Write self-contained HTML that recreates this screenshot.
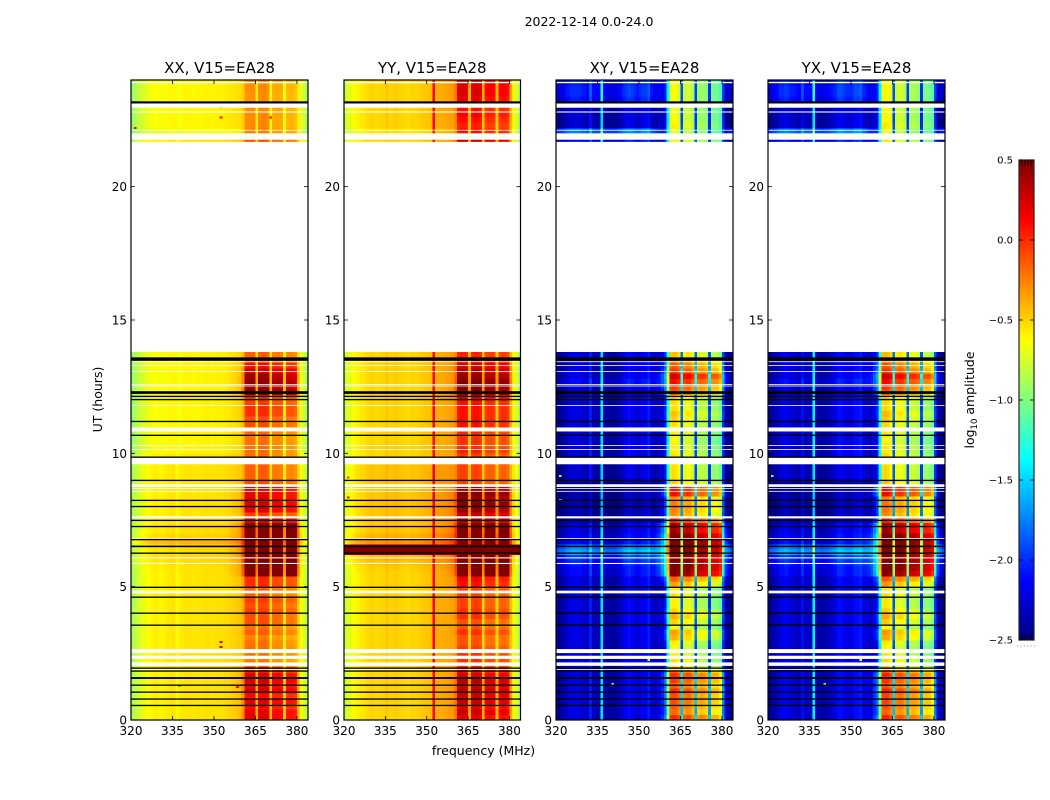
<!DOCTYPE html>
<html>
<head>
<meta charset="utf-8">
<title>2022-12-14 baseline spectrogram</title>
<style>
html,body{margin:0;padding:0;background:#fff}
svg{display:block}
text{font-family:"DejaVu Sans","Liberation Sans",sans-serif;fill:#000}
</style>
</head>
<body>
<svg id="fig" xmlns="http://www.w3.org/2000/svg" width="1050" height="800" viewBox="0 0 1050 800">
<text x="589" y="26" font-size="12.5" text-anchor="middle">2022-12-14 0.0-24.0</text>
<text x="483.5" y="755" font-size="12.5" text-anchor="middle">frequency (MHz)</text>
<text x="102" y="399.5" font-size="12.5" text-anchor="middle" transform="rotate(-90 102 399.5)">UT (hours)</text>
<text x="974" y="400" font-size="12.5" text-anchor="middle" transform="rotate(-90 974 400)">log<tspan font-size="8.5" dy="3">10</tspan><tspan dy="-3"> amplitude</tspan></text>
</svg>
<script>
// ---------- data ----------
const panelTitles = ["XX, V15=EA28", "YY, V15=EA28", "XY, V15=EA28", "YX, V15=EA28"];
const freqTicks = [320, 335, 350, 365, 380];
const utTicks = [0, 5, 10, 15, 20];
const colorTicks = [0.5, 0.0, -0.5, -1.0, -1.5, -2.0, -2.5];

// log10 amplitude per 1 MHz channel, 320..383 MHz
const xxSpectrum = [-.88,-.82,-.76,-.72,-.68,-.65,-.62,-.6,
 -.58,-.58,-.6,-.6,-.58,-.56,-.56,-.55,
 -.62,-.58,-.56,-.55,-.55,-.55,-.56,-.56,
 -.55,-.55,-.54,-.54,-.54,-.55,-.54,-.54,
 -.54,-.53,-.52,-.52,-.5,-.5,-.48,-.47,
 -.42,-.22,-.2,-.2,-.2,-.5,-.2,-.18,
 -.18,-.22,-.55,-.3,-.28,-.28,-.3,-.58,
 -.33,-.32,-.32,-.36,-.5,-.65,-.72,-.82];
const yySpectrum = [-.78,-.72,-.68,-.64,-.6,-.58,-.56,-.55,
 -.52,-.5,-.5,-.52,-.52,-.5,-.5,-.45,
 -.5,-.5,-.48,-.48,-.5,-.5,-.52,-.52,
 -.5,-.5,-.5,-.48,-.47,-.46,-.45,-.44,
 .12,-.4,-.38,-.38,-.38,-.37,-.36,-.35,
 -.3,-.08,-.05,-.05,-.08,-.45,-.08,-.05,
 -.05,-.1,-.5,-.18,-.15,-.15,-.18,-.5,
 -.18,-.15,-.15,-.2,-.45,-.6,-.72,-.82];
const xySpectrum = [-2.45,-2.4,-2.4,-2.3,-2.25,-2.2,-2.2,-2.2,
 -2.2,-2.25,-2.25,-2.35,-2.05,-2.3,-2.35,-2.35,
 -1.45,-2.35,-2.4,-2.4,-2.4,-2.4,-2.35,-2.3,
 -2.2,-2.15,-2.1,-2.15,-2.2,-2.25,-2.2,-2.15,
 -2.15,-2.05,-2.25,-2.3,-2.3,-2.3,-2.25,-2.1,
 -1.4,-.62,-.58,-.6,-.7,-1.9,-.75,-.7,
 -.72,-.85,-1.95,-.9,-.85,-.88,-.95,-2.0,
 -1.0,-.98,-1.0,-1.15,-2.0,-2.4,-2.45,-2.5];
const yxSpectrum = [-2.45,-2.4,-2.35,-2.3,-2.2,-2.2,-2.15,-2.2,
 -2.25,-2.25,-2.3,-2.35,-2.1,-2.3,-2.3,-2.3,
 -1.4,-2.35,-2.35,-2.4,-2.35,-2.35,-2.3,-2.25,
 -2.2,-2.1,-2.1,-2.15,-2.2,-2.2,-2.2,-2.1,
 -2.1,-2.05,-2.2,-2.25,-2.3,-2.3,-2.2,-2.1,
 -1.4,-.58,-.55,-.58,-.68,-1.9,-.75,-.7,
 -.72,-.82,-1.95,-.85,-.82,-.85,-.92,-2.0,
 -.98,-.95,-.98,-1.12,-2.0,-2.4,-2.45,-2.5];

// how strongly each channel follows the band-gain series
const parallelBandWeight = [0,0,0,0,0,0,0,0, 0,0,0,0,0,0,0,0, 0,0,0,0,0,0,0,0, 0,0,0,0,0,0,0,0,
 0,0,0,.02,.04,.06,.08,.12, .3,1,1,1,1,.3,1,1, 1,1,.3,1,1,1,1,.3, 1,1,1,1,.3,.05,0,0];
const crossBandWeight = [0,0,0,0,0,0,0,0, 0,0,0,0,0,0,0,0, 0,0,0,0,0,0,0,0, 0,0,0,0,0,0,0,0,
 0,0,.05,.1,.2,.3,.45,.6, .8,1,1,1,1,.8,1,1, 1,1,.8,1,1,1,1,.8, 1,1,1,1,.6,.3,.15,.05];

// gain per 0.2-hour row; null rows have no data
const noData = new Array(39).fill(null);
const xxBandGain = [.4,.4,.3,.4,.3,.45,.4,.45,.4,.15,
 0,-.05,0,0,0,-.05,.05,0,.1,.1,.15,.1,.15,.05,.05,
 .2,.2,.9,1,1,1,1.05,1.05,1.05,.95,1,1,.4,.15,.4,
 .45,.4,.4,.4,.1,.05,.05,.05,0,0,
 0,0,0,0,.05,.1,.1,.2,.2,.15,
 .2,.7,.6,.65,.6,.45,.3,.2,.05,
 ...noData,
 .1,.1,-.05,-.08,-.08,-.08,-.08,-.1,-.1,-.1,-.08,-.1];
const yyBandGain = [.25,.35,.25,.35,.35,.4,.35,.4,.3,.1,
 .05,.05,.05,0,-.05,-.05,.05,-.05,-.05,.05,.05,0,0,0,0,
 .15,.2,.7,.8,.8,.8,1,1,1,.85,.8,.85,.4,.35,.5,
 .6,.5,.6,.45,0,0,0,0,0,0,
 .1,.05,.05,.05,.1,.15,.15,.15,.15,.15,
 .25,.55,.55,.6,.5,.4,.3,.25,.1,
 ...noData,
 .35,.35,.15,.1,.15,.2,.15,.25,.25,.3,.3,.3];
const crossBandGain = [.6,.4,.45,.5,.5,.6,.45,.55,.6,.3,
 .05,.05,0,-.05,0,.2,.25,-.05,.1,.2,.1,0,0,.05,0,
 .25,.45,1.1,1.2,1.2,1.2,1.25,1.3,1.3,1.2,1.0,1.0,.6,.3,.35,
 .35,.3,.7,.7,.1,.05,.05,.05,0,.05,
 0,0,-.05,0,0,.05,.1,.15,.05,.05,
 .1,.5,.55,.7,.85,.55,.45,.35,.15,
 ...noData,
 0,0,-.1,0,-.05,-.05,-.05,-.05,-.05,-.05,-.05,-.05];

const xxOffGain = [0,0,0,0,0,0,0,0,0,0, 0,0,0,0,0,0,0,0,0,0, 0,0,0,0,0,
 0,0,0,.01,.02,.04,.04,.03,.15,.05,.02,.02,0,0,0,
 0,0,0,0,0,0,0,0,0,0, -.05,-.05,-.05,-.05,-.05,-.05,-.05,-.05,-.05,-.05, -.05,-.05,-.05,-.05,-.05,-.05,-.05,-.05,-.05,
 ...noData,
 0,0,-.1,-.05,-.05,-.05,-.05,-.05,-.05,-.05,-.05,-.05];
const yyOffGain = [0,0,0,0,0,0,0,0,0,0, 0,0,0,0,0,0,0,0,0,0, 0,0,0,0,0,
 0,0,0,.02,.05,.08,2,2,.2,.1,.05,.03,.05,.05,.05,
 .05,.05,.05,.05,.05,.05,.05,.05,0,0, 0,0,0,0,0,0,0,0,0,0, 0,0,0,0,0,0,0,0,0,
 ...noData,
 0,0,-.05,0,0,0,0,0,0,0,0,0];
const crossOffGain = [0,0,0,0,0,0,0,0,0,0, 0,0,0,0,0,0,0,0,0,0, 0,0,0,0,0,
 0,0,.1,.1,.2,.25,.6,.5,.1,.05,0,0,-.15,-.15,-.15,
 -.15,-.15,-.15,-.15,-.15,-.05,-.05,-.05,-.05,0, 0,0,0,0,0,0,0,0,0,0, 0,0,0,.1,0,0,0,0,0,
 ...noData,
 .1,.2,.45,-.05,-.05,-.05,-.05,-.05,.15,.2,.2,.15];

// flagged time ranges, in UT hours
const whiteStartUT = [2.03,2.29,2.51,1.88,4.75,5.85,6.06,6.75,7.56,8.56,8.67,8.74,9.59,10.13,10.28,10.82,11.78,12.51,12.57,13.05,13.28,13.42,21.5,21.76,22.1,22.78,22.96,23.88];
const whiteEndUT = [2.16,2.41,2.66,1.91,4.85,5.89,6.1,6.82,7.64,8.59,8.7,8.84,9.85,10.16,10.31,10.97,11.81,12.54,12.6,13.08,13.31,13.45,21.68,22.0,22.13,22.82,23.12,23.93];
const blackStartUT = [.52,.76,1.02,1.28,1.54,1.81,1.92,3.53,3.98,4.58,4.95,6.23,6.48,6.74,7.23,7.46,7.98,8.21,8.96,9.83,10.65,11.17,11.99,12.11,12.23,13.47,23.12];
const blackEndUT = [.57,.81,1.07,1.33,1.61,1.86,1.97,3.58,4.03,4.63,5.0,6.28,6.54,6.79,7.28,7.51,8.03,8.26,9.01,9.88,10.7,11.22,12.04,12.16,12.33,13.6,23.2];

// isolated bright samples
const speckPanel = [0,0,0,0,0,0,0,0,0,1,1,2,2,2,2,3,3,3];
const speckFreq = [352,352,352,352,337,358,366,370,321,321,321,321,321,353,340,321,353,340];
const speckUT = [2.7,2.88,22.55,22.95,1.25,1.2,23.0,22.55,22.15,9.05,8.3,9.1,8.2,2.2,1.3,9.1,2.2,1.3];
const speckValue = [.2,.2,.1,.1,0,.1,0,.1,.1,-.1,.1,-.9,-1,-.7,-.9,-.9,-.7,-.9];

// ---------- layout ----------
const plotTop = 80, plotBottom = 720;
const panelLeft = [131, 344, 556, 768];
const panelWidth = [177, 176.5, 177, 177];
const FREQ_MIN = 320, FREQ_MAX = 384, UT_MAX = 24, ROW_HOURS = 0.2;
const CB_LEFT = 1019, CB_RIGHT = 1034, CB_TOP = 160, CB_BOTTOM = 640;
const SVGNS = "http://www.w3.org/2000/svg";
const fig = document.getElementById("fig");

const panelSpectra = [xxSpectrum, yySpectrum, xySpectrum, yxSpectrum];
const panelWeights = [parallelBandWeight, parallelBandWeight, crossBandWeight, crossBandWeight];
const panelBandGain = [xxBandGain, yyBandGain, crossBandGain, crossBandGain];
const panelOffGain = [xxOffGain, yyOffGain, crossOffGain, crossOffGain];

function xAxis(p, f) { return panelLeft[p] + (f - FREQ_MIN) / (FREQ_MAX - FREQ_MIN) * panelWidth[p]; }
function yAxis(t) { return plotBottom - t / UT_MAX * (plotBottom - plotTop); }
function cbAxis(v) { return CB_BOTTOM - (v + 2.5) / 3 * (CB_BOTTOM - CB_TOP); }

function jetChannel(x) { return Math.max(0, Math.min(1, 1.5 - Math.abs(x))); }
function jet(v) {
  const t = Math.max(0, Math.min(1, (v + 2.5) / 3));
  const r = jetChannel(4 * t - 3), g = jetChannel(4 * t - 2), b = jetChannel(4 * t - 1);
  return "rgb(" + Math.round(r * 255) + "," + Math.round(g * 255) + "," + Math.round(b * 255) + ")";
}
function make(tag, parent, props) {
  const e = document.createElementNS(SVGNS, tag);
  for (const k in props) e.setAttribute(k, props[k]);
  parent.appendChild(e);
  return e;
}

// ---------- panels ----------
panelTitles.forEach(function (title, p) {
  const x0 = panelLeft[p], x1 = x0 + panelWidth[p];
  const g = make("g", fig, {});
  
  

  const cells = make("g", g, { "shape-rendering": "crispEdges" });
  
  

  panelBandGain[p].forEach(function (gain, row) {
    if (gain === null) return;
    const off = panelOffGain[p][row];
    const yA = yAxis((row + 1) * ROW_HOURS), yB = yAxis(row * ROW_HOURS);
    panelSpectra[p].forEach(function (base, ch) {
      const w = panelWeights[p][ch];
      const v = base + gain * w + off * (1 - w);
      const xa = xAxis(p, FREQ_MIN + ch), xb = xAxis(p, FREQ_MIN + ch + 1);
      const c = make("rect", cells, { x: xa.toFixed(2), y: yA.toFixed(2), width: (xb - xa + 0.3).toFixed(2), height: (yB - yA + 0.3).toFixed(2), fill: jet(v) });
      
      
    });
  });

  speckPanel.forEach(function (sp, i) {
    if (sp !== p) return;
    const s = make("rect", cells, { x: xAxis(p, speckFreq[i]).toFixed(2), y: yAxis(speckUT[i] + 0.08).toFixed(2), width: 2.77, height: 2, fill: jet(speckValue[i]) });
    
    
  });

  whiteStartUT.forEach(function (t0, i) {
    const yTop = yAxis(whiteEndUT[i]);
    const r = make("rect", g, { x: x0, y: yTop.toFixed(2), width: panelWidth[p], height: (yAxis(t0) - yTop).toFixed(2), fill: "#fff" });
    
    
  });
  blackStartUT.forEach(function (t0, i) {
    const yTop = yAxis(blackEndUT[i]);
    const r = make("rect", g, { x: x0, y: yTop.toFixed(2), width: panelWidth[p], height: (yAxis(t0) - yTop).toFixed(2), fill: "#000" });
    
    
  });

  const frame = make("rect", g, { x: x0, y: plotTop, width: panelWidth[p], height: plotBottom - plotTop, fill: "none", stroke: "#000", "stroke-width": 1.2 });
  
  

  freqTicks.forEach(function (f) {
    const x = xAxis(p, f);
    const bottomTick = make("line", g, { x1: x, x2: x, y1: plotBottom, y2: plotBottom - 4, stroke: "#000", "stroke-width": 0.8 });
    
    
    const topTick = make("line", g, { x1: x, x2: x, y1: plotTop, y2: plotTop + 4, stroke: "#000", "stroke-width": 0.8 });
    
    
    const label = make("text", g, { x: x, y: 735, "font-size": 12, "text-anchor": "middle" });
    label.textContent = String(f);
    
    
  });
  utTicks.forEach(function (t) {
    const y = yAxis(t);
    const leftTick = make("line", g, { x1: x0, x2: x0 + 4, y1: y, y2: y, stroke: "#000", "stroke-width": 0.8 });
    
    
    const rightTick = make("line", g, { x1: x1 - 4, x2: x1, y1: y, y2: y, stroke: "#000", "stroke-width": 0.8 });
    
    
    const label = make("text", g, { x: x0 - 4, y: y + 4.5, "font-size": 12, "text-anchor": "end" });
    label.textContent = String(t);
    
    
  });

  const tt = make("text", g, { x: x0 + panelWidth[p] / 2, y: 73, "font-size": 15, "text-anchor": "middle" });
  tt.textContent = title;
  
  
});

// ---------- colorbar ----------
const cb = make("g", fig, {});


const cbRamp = make("g", cb, { "shape-rendering": "crispEdges" });


for (let i = 0; i < 240; i++) {
  const vLow = -2.5 + i * 3 / 240;
  const yTop = cbAxis(vLow + 3 / 240);
  const r = make("rect", cbRamp, { x: CB_LEFT, y: yTop, width: CB_RIGHT - CB_LEFT, height: 2.4, fill: jet(vLow + 1.5 / 240) });
  
  
}
const cbFrame = make("rect", cb, { x: CB_LEFT, y: CB_TOP, width: CB_RIGHT - CB_LEFT, height: CB_BOTTOM - CB_TOP, fill: "none", stroke: "#222", "stroke-width": 1.2 });


colorTicks.forEach(function (v) {
  const y = cbAxis(v);
  const tl = make("line", cb, { x1: CB_LEFT, x2: CB_LEFT + 4, y1: y, y2: y, stroke: "#000", "stroke-width": 0.8 });
  
  
  const tr = make("line", cb, { x1: CB_RIGHT - 4, x2: CB_RIGHT, y1: y, y2: y, stroke: "#000", "stroke-width": 0.8 });
  
  
  const lab = make("text", cb, { x: 1013, y: y + 3.5, "font-size": 10, "text-anchor": "end" });
  lab.textContent = v.toFixed(1).replace("-", "\u2212");
  
  
});
[1022, 1025, 1028, 1031].forEach(function (x) {
  const a = make("line", cb, { x1: x, x2: x, y1: CB_TOP, y2: CB_TOP + 6, stroke: "#000", "stroke-width": 0.8 });
  
  
  const b = make("line", cb, { x1: x, x2: x, y1: CB_BOTTOM - 6, y2: CB_BOTTOM, stroke: "#000", "stroke-width": 0.8 });
  
  
});
const cbDots = make("line", cb, { x1: 1017, x2: 1035, y1: 646, y2: 646, stroke: "#888", "stroke-width": 1, "stroke-dasharray": "1 2.4" });


</script>
</body>
</html>
